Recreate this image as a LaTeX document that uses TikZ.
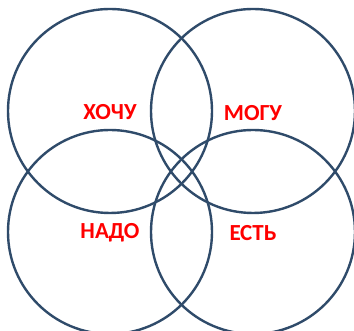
\documentclass[tikz,border=0pt]{standalone}
\usepackage{fontspec}
\setmainfont{Carlito}
\definecolor{ring}{HTML}{2F4B6A}
\definecolor{lbl}{HTML}{FF0000}
\begin{document}
\begin{tikzpicture}[x=1pt,y=1pt,
  ring/.style={draw=ring,line width=2.4pt,circle,minimum size=204pt,inner sep=0pt},
  lbl/.style={text=lbl,font=\bfseries\fontsize{23}{26}\selectfont,inner sep=0pt}]
\useasboundingbox (0,0) rectangle (354,331);
\node[ring] (c1) at (110,220) {};
\node[ring] (c2) at (253,220) {};
\node[ring] (c3) at (110,99) {};
\node[ring] (c4) at (253,99) {};
\node[lbl] (t1) at (110,219) {ХОЧУ};
\node[lbl] (t2) at (253,218) {МОГУ};
\node[lbl] (t3) at (110,98) {НАДО};
\node[lbl] (t4) at (253,98) {ЕСТЬ};
\end{tikzpicture}
\end{document}
